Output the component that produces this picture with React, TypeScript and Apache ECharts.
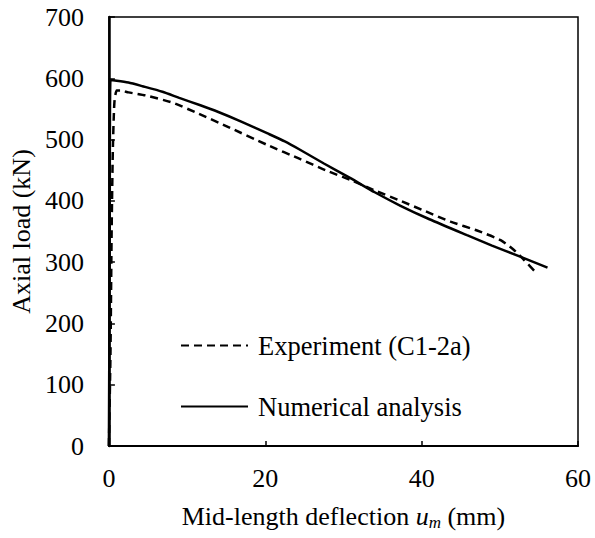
import React, { useEffect, useRef } from "react";
import * as echarts from "echarts";

// Experiment (C1-2a) — dashed
const expX = [0, 0.2, 0.35, 0.5, 0.7, 1.0, 1.5, 2.5, 4.7, 8.2, 11.5, 15, 20.3, 24.5, 27.7, 30.9, 34, 37.3, 40.5, 43.7, 47, 50.1, 51.7, 53, 54.4];
const expY = [0, 150, 350, 480, 560, 580, 580, 577, 572, 560, 542, 522, 491, 468, 450, 434, 417, 400, 383, 366, 352, 336, 321, 305, 286];

// Numerical analysis — solid
const numX = [0, 0.1, 0.2, 1, 2.5, 4.3, 6.85, 9, 11.7, 14, 17, 20.3, 22.5, 24.5, 27.5, 30.9, 34, 37.3, 41, 45.8, 49, 52.6, 56.1];
const numY = [0, 300, 597, 596, 593, 587, 578, 568, 556, 545, 529, 510, 497, 483, 461, 437, 414, 392, 370, 344, 327, 309, 291];

const seriesNames = ["Experiment (C1-2a)", "Numerical analysis"];
const xAxisRange = { min: 0, max: 60, interval: 20 };
const yAxisRange = { min: 0, max: 700, interval: 100 };

const FONT = "'Liberation Serif', 'Times New Roman', serif";
const FS = 26;

export default function App() {
  const ref = useRef<HTMLDivElement>(null);
  useEffect(() => {
    const chart = echarts.init(ref.current!, null, { renderer: "svg" });
    const zip = (xs: number[], ys: number[]) => xs.map((x, i) => [x, ys[i]]);
    chart.setOption({
      animation: false,
      backgroundColor: "#fff",
      textStyle: { fontFamily: FONT, color: "#000" },
      grid: {
        left: 108,
        right: 17,
        top: 17,
        bottom: 92,
        show: true,
        borderColor: "#000",
        borderWidth: 1.5,
        backgroundColor: "transparent",
      },
      legend: {
        orient: "vertical",
        left: 175,
        top: 327,
        itemWidth: 67,
        itemHeight: 14,
        itemGap: 34,
        itemStyle: { opacity: 0 },
        textStyle: { fontFamily: FONT, fontSize: 26.5, color: "#000", padding: [0, 0, 0, 5] },
        data: seriesNames,
      },
      xAxis: {
        type: "value",
        ...xAxisRange,
        name: "Mid-length deflection {i|u}{s|m} (mm)",
        nameLocation: "middle",
        nameGap: 56,
        nameTextStyle: {
          fontFamily: FONT,
          fontSize: FS,
          color: "#000",
          rich: {
            i: { fontFamily: FONT, fontSize: FS, fontStyle: "italic", color: "#000" },
            s: { fontFamily: FONT, fontSize: 17, fontStyle: "italic", color: "#000", padding: [12, 0, 0, 0] },
          },
        },
        axisLine: { show: true, onZero: false, lineStyle: { color: "#000", width: 2 } },
        axisTick: { show: true, inside: true, length: 5, lineStyle: { color: "#000", width: 1.5 } },
        axisLabel: { color: "#000", fontFamily: FONT, fontSize: FS, margin: 19 },
        splitLine: { show: false },
      },
      yAxis: {
        type: "value",
        ...yAxisRange,
        name: "Axial load (kN)",
        nameLocation: "middle",
        nameGap: 61,
        nameTextStyle: { fontFamily: FONT, fontSize: FS, color: "#000" },
        axisLine: { show: true, onZero: false, lineStyle: { color: "#000", width: 2.5 } },
        axisTick: { show: true, inside: true, length: 6, lineStyle: { color: "#000", width: 1.5 } },
        axisLabel: { color: "#000", fontFamily: FONT, fontSize: FS, margin: 25 },
        splitLine: { show: false },
      },
      series: [
        {
          name: seriesNames[0],
          type: "line",
          data: zip(expX, expY),
          symbol: "none",
          smooth: 0.2,
          lineStyle: { color: "#000", width: 2.5, type: [8, 5] },
          itemStyle: { color: "#000" },
          z: 3,
        },
        {
          name: seriesNames[1],
          type: "line",
          data: zip(numX, numY),
          symbol: "none",
          smooth: 0.2,
          lineStyle: { color: "#000", width: 2.5, type: "solid" },
          itemStyle: { color: "#000" },
          z: 2,
        },
      ],
    });
    return () => chart.dispose();
  }, []);
  return <div ref={ref} style={{ position: "fixed", left: 0, top: 0, width: 595, height: 538 }} />;
}
